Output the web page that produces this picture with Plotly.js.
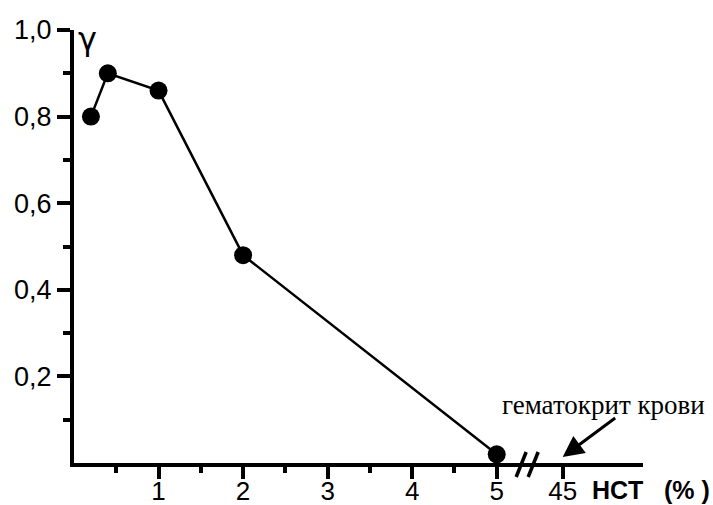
<!DOCTYPE html>
<html>
<head>
<meta charset="utf-8">
<script src="https://cdn.plot.ly/plotly-3.0.1.min.js"></script>
<style>html,body{margin:0;padding:0;background:#fff;}#chart{width:713px;height:505px;}</style>
</head>
<body>
<div id="chart"></div>
<script>
// Data (HCT in %, gamma)
var hct = [0.2, 0.4, 1, 2, 5];
var gamma = [0.80, 0.90, 0.86, 0.48, 0.02];

// Axis tick labels (broken axis: 45 drawn after the break)
var xTickPos = [1, 2, 3, 4, 5, 5.78];
var xTickText = ['1', '2', '3', '4', '5', '45'];
var xMinorPos = [0.5, 1.5, 2.5, 3.5, 4.5];
var yTickVals = [0.2, 0.4, 0.6, 0.8, 1.0];
var yMinorVals = [0.1, 0.3, 0.5, 0.7, 0.9];
var breakPos = 5.36;
var bloodHctPos = 5.78;
var xRange = [0, 6.73];
var yRange = [0, 1.0];

var sans = 'Liberation Sans, Arial, sans-serif';
var serif = 'Liberation Serif, Times New Roman, serif';

var trace = {
  x: hct, y: gamma, type: 'scatter', mode: 'lines+markers',
  line: {color: '#000', width: 2.5},
  marker: {color: '#000', size: 18},
  cliponaxis: false,
  hoverinfo: 'skip'
};

var bx = breakPos / xRange[1];
var layout = {
  width: 713, height: 505,
  margin: {l: 74, r: 70, t: 30, b: 42},
  paper_bgcolor: '#fff', plot_bgcolor: '#fff',
  separators: ', ',
  showlegend: false,
  xaxis: {
    range: xRange, showgrid: false, zeroline: false,
    showline: true, linecolor: '#000', linewidth: 4,
    tickmode: 'array', tickvals: xTickPos, ticktext: xTickText,
    ticks: 'outside', ticklen: 12, tickwidth: 4, tickcolor: '#000',
    ticklabelstandoff: -10,
    tickfont: {family: sans, size: 26, color: '#000'},
    minor: {tickmode: 'array', tickvals: xMinorPos, ticks: 'outside', ticklen: 6, tickwidth: 4, tickcolor: '#000', showgrid: false}
  },
  yaxis: {
    range: yRange, showgrid: false, zeroline: false,
    showline: true, linecolor: '#000', linewidth: 4,
    tickmode: 'array', tickvals: yTickVals, tickformat: '.1f',
    ticks: 'outside', ticklen: 13, tickwidth: 4, tickcolor: '#000',
    tickfont: {family: sans, size: 27, color: '#000'},
    minor: {tickmode: 'array', tickvals: yMinorVals, ticks: 'outside', ticklen: 7, tickwidth: 4, tickcolor: '#000', showgrid: false}
  },
  shapes: [
    {type: 'line', xref: 'paper', yref: 'paper', xsizemode: 'pixel', ysizemode: 'pixel',
     xanchor: bx, yanchor: 0, x0: -11, x1: -1, y0: -14, y1: 11, line: {color: '#000', width: 3.5}},
    {type: 'line', xref: 'paper', yref: 'paper', xsizemode: 'pixel', ysizemode: 'pixel',
     xanchor: bx, yanchor: 0, x0: 1, x1: 11, y0: -14, y1: 11, line: {color: '#000', width: 3.5}}
  ],
  annotations: [
    {text: 'γ', xref: 'paper', yref: 'paper', x: 0.0246, y: 0.98, xanchor: 'center', yanchor: 'middle',
     showarrow: false, font: {family: 'DejaVu Sans, sans-serif', size: 32, color: '#000'}},
    {text: '<b>HCT</b>', xref: 'paper', yref: 'paper', x: 0.955, y: -0.062, xanchor: 'center', yanchor: 'middle',
     showarrow: false, font: {family: sans, size: 25, color: '#000'}},
    {text: '<b>(% )</b>', xref: 'paper', yref: 'paper', x: 1.077, y: -0.062, xanchor: 'center', yanchor: 'middle',
     showarrow: false, font: {family: sans, size: 25, color: '#000'}},
    {text: 'гематокрит крови', xref: 'paper', yref: 'paper', x: 0.93, y: 0.134, xanchor: 'center', yanchor: 'middle',
     showarrow: false, font: {family: serif, size: 27, color: '#000'}},
    {text: '', xref: 'x', yref: 'y', x: bloodHctPos, y: 0.014, showarrow: true,
     ax: 54, ay: -40, arrowhead: 2, arrowsize: 1.4, arrowwidth: 3, arrowcolor: '#000', standoff: 0}
  ]
};

Plotly.newPlot('chart', [trace], layout, {displayModeBar: false, staticPlot: true});
</script>
</body>
</html>
